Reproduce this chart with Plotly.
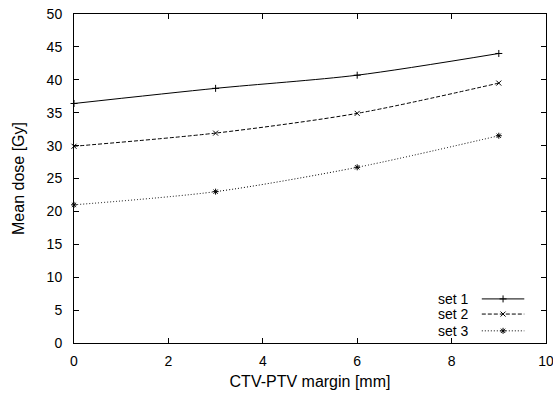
import plotly.graph_objects as go

x_vals = [0, 3, 6, 9]
set1 = [36.4, 38.7, 40.7, 44.0]
set2 = [29.9, 31.9, 34.9, 39.5]
set3 = [21.0, 23.0, 26.7, 31.5]
names = ["set 1", "set 2", "set 3"]
x_ticks = [0, 2, 4, 6, 8, 10]
y_ticks = [0, 5, 10, 15, 20, 25, 30, 35, 40, 45, 50]

styles = [
    dict(dash="solid", symbol="cross-thin-open"),
    dict(dash="4px,2px", symbol="x-thin-open"),
    dict(dash="1px,2px", symbol="asterisk-open"),
]

fig = go.Figure()
for name, ys, st in zip(names, [set1, set2, set3], styles):
    fig.add_trace(go.Scatter(
        x=x_vals, y=ys, name=name, mode="lines+markers",
        line=dict(color="black", width=1, dash=st["dash"], shape="spline", smoothing=0.8),
        marker=dict(symbol=st["symbol"], size=5, color="black",
                    line=dict(color="black", width=1)),
        showlegend=False, cliponaxis=False,
    ))

# custom gnuplot-style legend (text left, sample right)
leg_y = [0.134, 0.088, 0.037]
for name, ly, st in zip(names, leg_y, styles):
    fig.add_trace(go.Scatter(
        x=[0.864, 0.909, 0.954], y=[ly, ly, ly], mode="lines",
        line=dict(color="black", width=1, dash=st["dash"]),
        xaxis="x2", yaxis="y2", showlegend=False, hoverinfo="skip",
    ))
    fig.add_trace(go.Scatter(
        x=[0.909], y=[ly], mode="markers",
        marker=dict(symbol=st["symbol"], size=5, color="black",
                    line=dict(color="black", width=1)),
        xaxis="x2", yaxis="y2", showlegend=False, hoverinfo="skip",
    ))
    fig.add_annotation(x=0.841, y=ly, xref="x2", yref="y2", text=name,
                       showarrow=False, xanchor="right", yanchor="middle",
                       font=dict(size=14, color="black"))

font = dict(family="Liberation Sans, Arial, sans-serif", size=13, color="black")
fig.update_layout(
    width=553, height=393,
    margin=dict(l=74, r=7, t=14, b=50),
    paper_bgcolor="white", plot_bgcolor="white",
    font=font,
    xaxis=dict(range=[0, 10], tickvals=x_ticks, ticks="inside", ticklen=5,
               tickcolor="black", showline=True, linecolor="black", linewidth=1,
               mirror="allticks", showgrid=False, zeroline=False,
               ticklabeloverflow="allow", ticklabelstandoff=5,
               tickfont=dict(size=14), automargin=False,
               title=dict(text="CTV-PTV margin [mm]", standoff=8)),
    yaxis=dict(range=[0, 50], tickvals=y_ticks, ticks="inside", ticklen=5,
               tickcolor="black", showline=True, linecolor="black", linewidth=1,
               mirror="allticks", showgrid=False, zeroline=False,
               ticklabelstandoff=8, tickfont=dict(size=14), automargin=False,
               title=dict(text="Mean dose [Gy]", standoff=18)),
    xaxis2=dict(range=[0, 1], overlaying="x", visible=False),
    yaxis2=dict(range=[0, 1], overlaying="y", visible=False),
)

fig.write_html("out.html")
